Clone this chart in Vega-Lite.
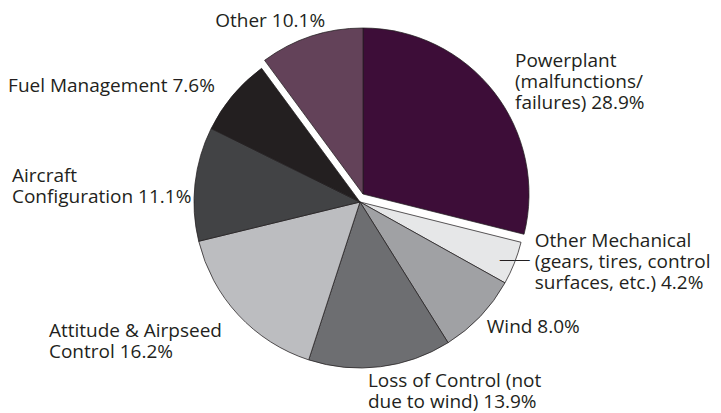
{
  "$schema": "https://vega.github.io/schema/vega-lite/v6.json",
  "width": 720,
  "height": 404,
  "padding": {"left": 0, "top": 0, "right": 1, "bottom": 9},
  "autosize": {"type": "none"},
  "background": "white",
  "config": {
    "view": {"stroke": null},
    "text": {"font": "Open Sans", "fontSize": 19, "color": "#231f20", "lineHeight": 21}
  },
  "data": {
    "values": [
      {"category": "Powerplant", "order": 1, "value": 28.9, "label": "Powerplant\n(malfunctions/\nfailures) 28.9%"},
      {"category": "Other Mechanical", "order": 2, "value": 4.2, "label": "Other Mechanical\n(gears, tires, control\nsurfaces, etc.) 4.2%"},
      {"category": "Wind", "order": 3, "value": 8.0, "label": "Wind 8.0%"},
      {"category": "Loss of Control", "order": 4, "value": 13.9, "label": "Loss of Control (not\ndue to wind) 13.9%"},
      {"category": "Attitude & Airspeed Control", "order": 5, "value": 16.2, "label": "Attitude & Airpseed\nControl 16.2%"},
      {"category": "Aircraft Configuration", "order": 6, "value": 11.1, "label": "Aircraft\nConfiguration 11.1%"},
      {"category": "Fuel Management", "order": 7, "value": 7.6, "label": "Fuel Management 7.6%"},
      {"category": "Other", "order": 8, "value": 10.1, "label": "Other 10.1%"}
    ]
  },
  "transform": [
    {"stack": "value", "groupby": [], "sort": [{"field": "order", "order": "ascending"}], "as": ["v0", "v1"]}
  ],
  "layer": [
    {
      "transform": [{"filter": "datum.category !== 'Powerplant' && datum.category !== 'Other'"}],
      "mark": {"type": "arc", "outerRadius": 166, "stroke": "#231f20", "strokeWidth": 0.75},
      "encoding": {
        "theta": {"field": "v0", "type": "quantitative", "scale": {"domain": [0, 100]}},
        "theta2": {"field": "v1"},
        "color": {
          "field": "category", "type": "nominal", "legend": null,
          "scale": {
            "domain": ["Powerplant", "Other Mechanical", "Wind", "Loss of Control", "Attitude & Airspeed Control", "Aircraft Configuration", "Fuel Management", "Other"],
            "range": ["#3d0d38", "#e6e7e8", "#a0a1a4", "#6d6e71", "#bcbdc0", "#424345", "#231f20", "#634259"]
          }
        }
      }
    },
    {
      "transform": [{"filter": "datum.category === 'Powerplant' || datum.category === 'Other'"}],
      "mark": {"type": "arc", "outerRadius": 166, "stroke": "#231f20", "strokeWidth": 0.75, "xOffset": 3, "yOffset": -8},
      "encoding": {
        "theta": {"field": "v0", "type": "quantitative", "scale": {"domain": [0, 100]}},
        "theta2": {"field": "v1"},
        "color": {"field": "category", "type": "nominal", "legend": null}
      }
    },
    {
      "transform": [{"filter": "datum.category === 'Powerplant'"}],
      "mark": {"type": "text", "radius": 175, "dx": 155, "dy": 40, "align": "left", "baseline": "alphabetic", "lineBreak": "\n"},
      "encoding": {"theta": {"field": "v0", "type": "quantitative"}, "text": {"field": "label"}}
    },
    {
      "transform": [{"filter": "datum.category === 'Other Mechanical'"}],
      "mark": {"type": "text", "radius": 175, "dx": 5, "dy": 2.5, "align": "left", "baseline": "alphabetic", "lineBreak": "\n"},
      "encoding": {"theta": {"field": "v0", "type": "quantitative"}, "text": {"field": "label"}}
    },
    {
      "transform": [{"filter": "datum.category === 'Other Mechanical'"}],
      "mark": {"type": "text", "radius": 175, "dx": -30, "dy": 20, "align": "left", "baseline": "alphabetic", "font": "Liberation Sans", "fontSize": 15, "text": "——"},
      "encoding": {"theta": {"field": "v0", "type": "quantitative"}}
    },
    {
      "transform": [{"filter": "datum.category === 'Wind'"}],
      "mark": {"type": "text", "radius": 175, "dx": -26, "dy": 46, "align": "left", "baseline": "alphabetic", "lineBreak": "\n"},
      "encoding": {"theta": {"field": "v0", "type": "quantitative"}, "text": {"field": "label"}}
    },
    {
      "transform": [{"filter": "datum.category === 'Loss of Control'"}],
      "mark": {"type": "text", "radius": 175, "dx": 62, "dy": 18.5, "align": "left", "baseline": "alphabetic", "lineBreak": "\n"},
      "encoding": {"theta": {"field": "v1", "type": "quantitative"}, "text": {"field": "label"}}
    },
    {
      "transform": [{"filter": "datum.category === 'Attitude & Airspeed Control'"}],
      "mark": {"type": "text", "radius": 175, "dx": -141, "dy": 93.6, "align": "left", "baseline": "alphabetic", "lineBreak": "\n"},
      "encoding": {"theta": {"field": "v1", "type": "quantitative"}, "text": {"field": "label"}}
    },
    {
      "transform": [{"filter": "datum.category === 'Aircraft Configuration'"}],
      "mark": {"type": "text", "radius": 175, "dx": -178, "dy": -61.4, "align": "left", "baseline": "alphabetic", "lineBreak": "\n"},
      "encoding": {"theta": {"field": "v0", "type": "quantitative"}, "text": {"field": "label"}}
    },
    {
      "transform": [{"filter": "datum.category === 'Fuel Management'"}],
      "mark": {"type": "text", "radius": 175, "dx": -195, "dy": -32.5, "align": "left", "baseline": "alphabetic", "lineBreak": "\n"},
      "encoding": {"theta": {"field": "v0", "type": "quantitative"}, "text": {"field": "label"}}
    },
    {
      "transform": [{"filter": "datum.category === 'Other'"}],
      "mark": {"type": "text", "radius": 175, "dx": -41, "dy": -34, "align": "left", "baseline": "alphabetic", "lineBreak": "\n"},
      "encoding": {"theta": {"field": "v0", "type": "quantitative"}, "text": {"field": "label"}}
    }
  ]
}
